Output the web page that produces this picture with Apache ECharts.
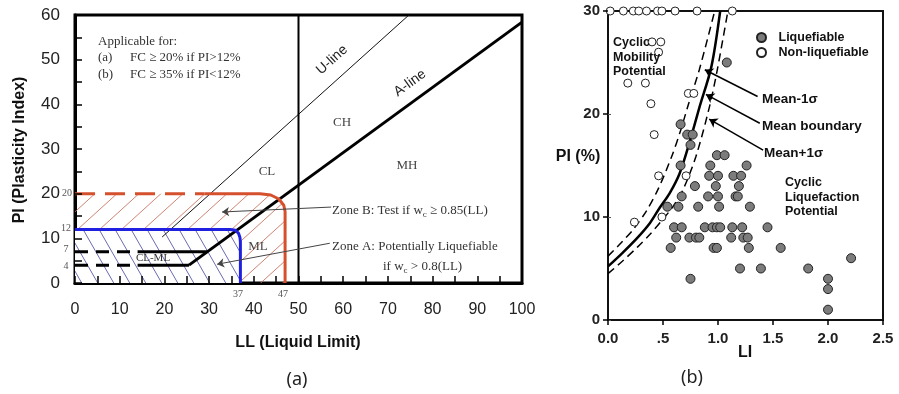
<!DOCTYPE html>
<html>
<head>
<meta charset="utf-8">
<title>Plasticity chart and LI-PI chart</title>
<script src="https://cdn.jsdelivr.net/npm/echarts@6.0.0/dist/echarts.min.js"></script>
<style>
  html, body { margin: 0; padding: 0; background: #fff; }
  #chart { width: 899px; height: 394px; }
</style>
</head>
<body>
<div id="chart"></div>
<script>
// ---------- (a) plasticity chart ----------
var llTickLabels = ['0', '10', '20', '30', '40', '50', '60', '70', '80', '90', '100'];
var piTickLabels = ['0', '10', '20', '30', '40', '50', '60'];

var uLine = [[19.5, 10.3], [74.7, 60]];
var aLine = [[25.5, 4], [100, 58.4]];
var ll50Line = [[50, 0], [50, 60]];
var pi7Dashed = [[0, 7], [14, 7]];
var pi7Solid = [[14, 7], [29.6, 7]];
var pi4Dashed = [[0, 4], [14, 4]];
var pi4Solid = [[14, 4], [25.5, 4]];
var zoneBDashed = [[0, 20], [29, 20]];
var zoneBSolid = [[29, 20], [41.4, 20], [43.8, 19.7], [45.6, 18.8], [46.7, 17.4], [47, 16], [47, 0]];
var zoneAEdge = [[0, 12], [34.7, 12], [35.9, 11.8], [36.6, 11.1], [36.9, 10.2], [37, 9.2], [37, 0]];
var zoneBArrow = [[57.3, 17.0], [32.9, 15.9]];
var zoneAArrow = [[57.0, 8.9], [31.8, 4.2]];

// ---------- (b) LI vs PI ----------
var liTickLabels = ['0.0', '.5', '1.0', '1.5', '2.0', '2.5'];
var piPctTickLabels = ['0', '10', '20', '30'];

var liquefiable = [
  [1.08, 25], [0.66, 19], [0.72, 18], [0.77, 18], [0.75, 17],
  [0.99, 16], [1.06, 16], [0.66, 15], [0.93, 15], [1.26, 15],
  [0.92, 14], [1.0, 14], [1.14, 14], [1.21, 14],
  [0.79, 13], [0.98, 13], [1.19, 13],
  [0.67, 12], [0.91, 12], [1.0, 12], [1.16, 12], [1.18, 12],
  [0.54, 11], [0.64, 11], [0.82, 11], [1.01, 11], [1.29, 11],
  [0.6, 9], [0.67, 9], [0.88, 9], [0.95, 9], [0.99, 9], [1.02, 9], [1.13, 9], [1.22, 9], [1.45, 9],
  [0.62, 8], [0.74, 8], [0.8, 8], [0.83, 8], [1.12, 8], [1.23, 8], [1.27, 8],
  [0.57, 7], [0.96, 7], [0.99, 7], [1.28, 7], [1.57, 7],
  [2.21, 6], [1.2, 5], [1.39, 5], [1.82, 5],
  [0.75, 4], [2.0, 4], [2.0, 3], [2.0, 1]
];
var nonLiquefiable = [
  [0.02, 30], [0.14, 30], [0.23, 30], [0.28, 30], [0.35, 30], [0.45, 30], [0.49, 30], [0.61, 30], [0.81, 30], [1.13, 30],
  [0.4, 27], [0.48, 27], [0.46, 26], [0.18, 23], [0.34, 23],
  [0.73, 22], [0.78, 22], [0.39, 21], [0.42, 18],
  [0.46, 14], [0.71, 14], [0.49, 10], [0.24, 9.5]
];
var meanBoundary = [[0, 5.2], [0.13, 6.5], [0.26, 7.9], [0.38, 9.4], [0.47, 10.9], [0.56, 12.3], [0.65, 14.2], [0.74, 17.2], [0.83, 20.6], [0.94, 24.6], [1.02, 30]];
var meanMinus1s = [[0, 6.2], [0.12, 7.5], [0.23, 8.8], [0.35, 10.6], [0.46, 12.8], [0.58, 15.9], [0.66, 18.4], [0.73, 20.9], [0.83, 24.3], [0.97, 30]];
var meanPlus1s = [[0, 4.5], [0.13, 5.7], [0.27, 7.1], [0.38, 8.3], [0.5, 9.8], [0.59, 11.0], [0.68, 12.6], [0.8, 15.9], [0.92, 20.6], [0.99, 24.1], [1.09, 30]];
var arrowMinus = [[1.36, 21.7], [0.88, 24.3]];
var arrowMean = [[1.38, 19.1], [0.89, 21.9]];
var arrowPlus = [[1.41, 16.5], [0.92, 19.5]];

var SANS = '"Liberation Sans", Arial, sans-serif';
var SERIF = '"Liberation Serif", "Times New Roman", serif';

// diagonal hatch pattern for the zones
function hatch (w, h, color, up, bg) {
  var c = document.createElement('canvas')
  c.width = w
  c.height = h
  var g = c.getContext('2d')
  if (bg) {
    g.fillStyle = bg
    g.fillRect(0, 0, w, h)
  }
  g.strokeStyle = color
  g.lineWidth = 1
  g.beginPath()
  for (var k = -w; k <= w; k += w) {
    if (up) {
      g.moveTo(k, h); g.lineTo(k + w, 0)
    } else {
      g.moveTo(k, 0); g.lineTo(k + w, h)
    }
  }
  g.stroke()
  return { image: c, repeat: 'repeat' }
}

function line (data, idx, style, z) {
  return {
    type: 'line', xAxisIndex: idx, yAxisIndex: idx, data: data,
    symbol: 'none', silent: true, z: z || 3, lineStyle: style
  }
}

function arrow (pts) {
  return [{ coord: pts[0] }, { coord: pts[1] }]
}

function txt (x, y, text, font, o) {
  o = o || {}
  return {
    type: 'text', x: x, y: y, rotation: o.rot || 0, silent: true, z: 20,
    style: {
      text: text, font: font, fill: o.color || '#222',
      align: o.align || 'center', verticalAlign: 'middle',
      textAlign: o.align || 'center', textVerticalAlign: 'middle',
      rich: o.rich
    }
  }
}

// label-less twin axis that only carries tick marks
function tickAxis (grid, pos, min, max, step, inside, len) {
  return {
    type: 'value', gridIndex: grid, position: pos, min: min, max: max, interval: step, z: 10,
    axisLine: { show: false },
    axisTick: { show: true, inside: inside, length: len, lineStyle: { color: '#000', width: 1.5 } },
    axisLabel: { show: false }, splitLine: { show: false }
  }
}

var subRich = { s: { font: '9px ' + SERIF, fill: '#333', padding: [7, 0, 0, 0] } };

var chart = echarts.init(document.getElementById('chart'))

var option = {
  animation: false,
  backgroundColor: '#fff',
  grid: [
    { left: 75, top: 15, width: 447, height: 268, show: true, borderColor: '#000', borderWidth: 3 },
    { left: 608, top: 11, width: 275, height: 309, show: true, borderColor: '#111', borderWidth: 2 }
  ],
  xAxis: [
    {
      type: 'value', gridIndex: 0, min: 0, max: 100, interval: 10,
      axisLine: { show: true, lineStyle: { color: '#000', width: 3 } },
      axisTick: { show: false },
      axisLabel: { margin: 19, fontSize: 16, fontFamily: SANS, color: '#222', formatter: function (v) { return llTickLabels[Math.round(v / 10)] } },
      splitLine: { show: false }
    },
    {
      type: 'value', gridIndex: 1, min: 0, max: 2.5, interval: 0.5,
      axisLine: { show: true, lineStyle: { color: '#111', width: 2 } },
      axisTick: { show: false },
      axisLabel: { margin: 11, fontSize: 15, fontWeight: 'bold', fontFamily: SANS, color: '#222', formatter: function (v) { return liTickLabels[Math.round(v / 0.5)] } },
      splitLine: { show: false }
    },
    tickAxis(0, 'bottom', 0, 100, 5, true, 7),
    tickAxis(1, 'bottom', 0, 2.5, 0.5, false, 5)
  ],
  yAxis: [
    {
      type: 'value', gridIndex: 0, min: 0, max: 60, interval: 10,
      axisLine: { show: true, lineStyle: { color: '#000', width: 3 } },
      axisTick: { show: false },
      axisLabel: { margin: 15, fontSize: 17, fontFamily: SANS, color: '#222', formatter: function (v) { return piTickLabels[Math.round(v / 10)] } },
      splitLine: { show: false }
    },
    {
      type: 'value', gridIndex: 1, min: 0, max: 30, interval: 10,
      axisLine: { show: true, lineStyle: { color: '#111', width: 2 } },
      axisTick: { show: false },
      axisLabel: { margin: 8, fontSize: 15, fontWeight: 'bold', fontFamily: SANS, color: '#222', formatter: function (v) { return piPctTickLabels[Math.round(v / 10)] } },
      splitLine: { show: false }
    },
    {
      type: 'value', gridIndex: 1, position: 'right', min: 0, max: 30, interval: 10,
      axisLine: { show: false },
      axisTick: { show: true, inside: false, length: 3, lineStyle: { color: '#555', width: 1 } },
      axisLabel: { show: false }, splitLine: { show: false }
    },
    tickAxis(0, 'left', 0, 60, 5, true, 7),
    tickAxis(1, 'left', 0, 30, 10, false, 5)
  ],
  legend: {
    data: ['Liquefiable', 'Non-liquefiable'],
    orient: 'vertical', left: 751, top: 26,
    itemWidth: 24, itemHeight: 9, itemGap: 2,
    textStyle: { fontFamily: SANS, fontSize: 12.5, fontWeight: 'bold', color: '#111' },
    selectedMode: false
  },
  series: [
    // zone B (red hatch) and zone A (blue hatch)
    {
      type: 'line', xAxisIndex: 0, yAxisIndex: 0, data: [[0, 20]].concat(zoneBSolid),
      symbol: 'none', silent: true, z: 1, lineStyle: { opacity: 0 },
      areaStyle: { color: hatch(22, 20, 'rgba(200,110,90,0.85)', true), opacity: 1 }
    },
    {
      type: 'line', xAxisIndex: 0, yAxisIndex: 0, data: zoneAEdge,
      symbol: 'none', silent: true, z: 1.5, lineStyle: { opacity: 0 },
      areaStyle: { color: hatch(16, 28, 'rgba(90,90,170,0.9)', false, '#fff'), opacity: 1 }
    },
    line(uLine, 0, { color: '#111', width: 1 }),
    line(aLine, 0, { color: '#000', width: 3 }),
    Object.assign(line(ll50Line, 0, { color: '#000', width: 2 }), {
      markLine: {
        silent: true, symbol: ['none', 'arrow'], symbolSize: 7,
        lineStyle: { color: '#444', width: 1, type: 'solid' }, label: { show: false },
        data: [arrow(zoneBArrow), arrow(zoneAArrow)]
      }
    }),
    line(pi7Dashed, 0, { color: '#000', width: 3, type: [13, 8] }),
    line(pi7Solid, 0, { color: '#000', width: 3 }),
    line(pi4Dashed, 0, { color: '#000', width: 3, type: [13, 8] }),
    line(pi4Solid, 0, { color: '#000', width: 3 }),
    line(zoneBDashed, 0, { color: '#d5502c', width: 3, type: [20, 10] }),
    line(zoneBSolid, 0, { color: '#d5502c', width: 3 }),
    line(zoneAEdge, 0, { color: '#2020e0', width: 3 }),

    // panel (b) boundaries
    Object.assign(line(meanBoundary, 1, { color: '#000', width: 2.5 }), {
      smooth: 0.3,
      markLine: {
        silent: true, symbol: ['none', 'arrow'], symbolSize: 8,
        lineStyle: { color: '#000', width: 1.5, type: 'solid' }, label: { show: false },
        data: [arrow(arrowMinus), arrow(arrowMean), arrow(arrowPlus)]
      }
    }),
    Object.assign(line(meanMinus1s, 1, { color: '#000', width: 1.5, type: [8, 5] }), { smooth: 0.3 }),
    Object.assign(line(meanPlus1s, 1, { color: '#000', width: 1.5, type: [8, 5] }), { smooth: 0.3 }),
    {
      name: 'Liquefiable', type: 'scatter', xAxisIndex: 1, yAxisIndex: 1, data: liquefiable,
      symbol: 'circle', symbolSize: 9, clip: false, z: 5,
      itemStyle: { color: '#7c7c7c', borderColor: '#222', borderWidth: 1, opacity: 1 }
    },
    {
      name: 'Non-liquefiable', type: 'scatter', xAxisIndex: 1, yAxisIndex: 1, data: nonLiquefiable,
      symbol: 'circle', symbolSize: 8, clip: false, z: 5,
      itemStyle: { color: '#fff', borderColor: '#222', borderWidth: 1, opacity: 1 }
    }
  ],
  graphic: [
    // panel (a) texts
    txt(20, 150, 'PI (Plasticity Index)', 'bold 16px ' + SANS, { rot: Math.PI / 2, color: '#111' }),
    txt(298, 343, 'LL (Liquid Limit)', 'bold 16px ' + SANS, { color: '#111' }),
    txt(98, 42, 'Applicable for:', '13px ' + SERIF, { align: 'left', color: '#333' }),
    txt(98, 58, '(a)', '13px ' + SERIF, { align: 'left', color: '#333' }),
    txt(130, 58, 'FC ≥ 20% if PI>12%', '13px ' + SERIF, { align: 'left', color: '#333' }),
    txt(98, 75, '(b)', '13px ' + SERIF, { align: 'left', color: '#333' }),
    txt(130, 75, 'FC ≥ 35% if PI<12%', '13px ' + SERIF, { align: 'left', color: '#333' }),
    txt(332, 60, 'U-line', '14px ' + SANS, { rot: 42 * Math.PI / 180, color: '#222' }),
    txt(410, 83, 'A-line', '14px ' + SANS, { rot: 36 * Math.PI / 180, color: '#222' }),
    txt(342, 123, 'CH', '13px ' + SERIF, { color: '#444' }),
    txt(407, 166, 'MH', '13px ' + SERIF, { color: '#444' }),
    txt(267, 172, 'CL', '13px ' + SERIF, { color: '#444' }),
    txt(258, 247, 'ML', '13px ' + SERIF, { color: '#444' }),
    txt(153, 258, 'CL-ML', '11px ' + SERIF, { color: '#333' }),
    txt(332, 211, 'Zone B: Test if w{s|c} ≥ 0.85(LL)', '13px ' + SERIF, { align: 'left', color: '#333', rich: subRich }),
    txt(332, 247, 'Zone A: Potentially Liquefiable', '13px ' + SERIF, { align: 'left', color: '#333' }),
    txt(383, 267, 'if w{s|c} > 0.8(LL)', '13px ' + SERIF, { align: 'left', color: '#333', rich: subRich }),
    txt(67, 193, '20', '10px ' + SERIF, { color: '#555' }),
    txt(66, 228, '12', '10px ' + SERIF, { color: '#555' }),
    txt(66, 249, '7', '10px ' + SERIF, { color: '#555' }),
    txt(66, 266, '4', '10px ' + SERIF, { color: '#555' }),
    txt(238, 294, '37', '10px ' + SERIF, { color: '#555' }),
    txt(283, 294, '47', '10px ' + SERIF, { color: '#555' }),
    txt(297, 380, '(a)', '18px "Noto Sans", sans-serif', { color: '#222' }),

    // panel (b) texts
    txt(578, 157, 'PI (%)', 'bold 16px ' + SANS, { color: '#111' }),
    txt(745, 353, 'LI', 'bold 16px ' + SANS, { color: '#111' }),
    txt(613, 43, 'Cyclic', 'bold 12.5px ' + SANS, { align: 'left', color: '#111' }),
    txt(613, 57.5, 'Mobility', 'bold 12.5px ' + SANS, { align: 'left', color: '#111' }),
    txt(613, 72, 'Potential', 'bold 12.5px ' + SANS, { align: 'left', color: '#111' }),
    txt(785, 183, 'Cyclic', 'bold 12.5px ' + SANS, { align: 'left', color: '#111' }),
    txt(785, 197.5, 'Liquefaction', 'bold 12.5px ' + SANS, { align: 'left', color: '#111' }),
    txt(785, 212, 'Potential', 'bold 12.5px ' + SANS, { align: 'left', color: '#111' }),
    txt(762, 99, 'Mean-1σ', 'bold 13.5px ' + SANS, { align: 'left', color: '#111' }),
    txt(762, 126, 'Mean boundary', 'bold 13.5px ' + SANS, { align: 'left', color: '#111' }),
    txt(764, 153, 'Mean+1σ', 'bold 13.5px ' + SANS, { align: 'left', color: '#111' }),
    txt(692, 378, '(b)', '18px "Noto Sans", sans-serif', { color: '#222' })
  ]
}

chart.setOption(option)
window.addEventListener('resize', function () {
  chart.resize()
})
</script>
</body>
</html>
